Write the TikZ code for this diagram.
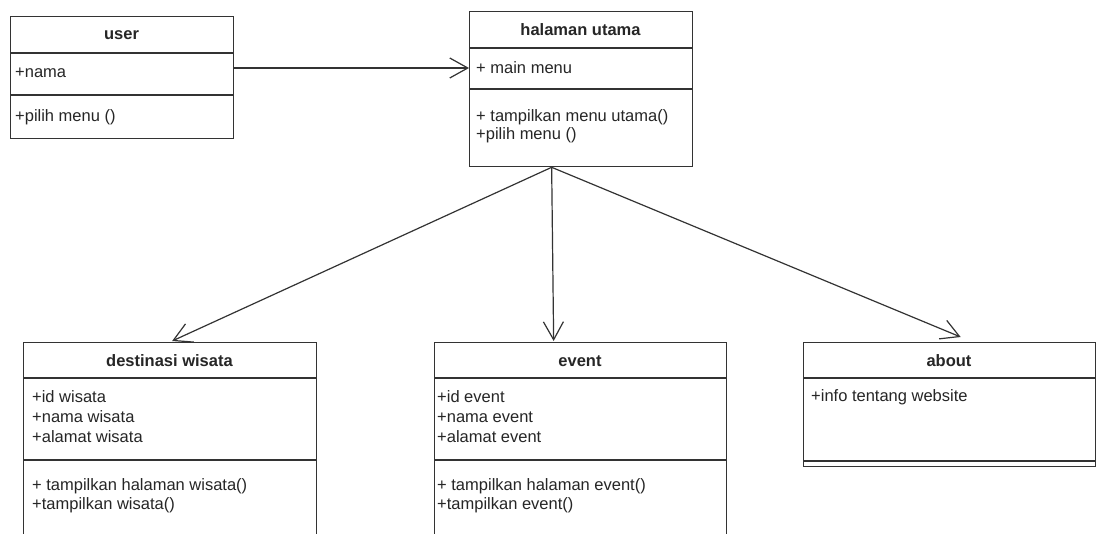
\documentclass[tikz,border=0pt]{standalone}
\usepackage{fontspec}
\setmainfont{Liberation Sans}
\usetikzlibrary{arrows.meta,calc}
\begin{document}
\begin{tikzpicture}[x=1pt,y=-1pt,
  frame/.style={draw=black!80, line width=1.3pt, fill=white, inner sep=0pt, anchor=north west},
  head/.style={font=\fontsize{16.5}{20}\selectfont\bfseries, text=black!85, inner sep=0pt},
  item/.style={font=\fontsize{16.5}{20}\selectfont, text=black!85, anchor=west, inner xsep=#1, inner ysep=0pt},
  item/.default=7pt,
  sep/.style={draw=black!80, line width=1.3pt},
  assoc/.style={draw=black!80, line width=1.2pt, -{Straight Barb[length=18pt,width=20pt]}}]
\fill[white] (0,0) rectangle (1097,533);
\useasboundingbox (0,0) rectangle (1097,533);
\clip (0,0) rectangle (1097,533);

% class: user
\node[frame, minimum width=223pt, minimum height=122pt] (user) at (10,16) {};
\node[head] (userh) at (121.5,35) {user};
\draw[sep] (10,53) -- (233,53);
\node[item=5pt] (usera) at (10,73) {+nama};
\draw[sep] (10,95) -- (233,95);
\node[item=5pt] (userm) at (10,117) {+pilih menu ()};

% class: halaman utama
\node[frame, minimum width=223pt, minimum height=155pt] (hal) at (469,11) {};
\node[head] (halh) at (580.5,30) {halaman utama};
\draw[sep] (469,48) -- (692,48);
\node[item=7pt] (hala) at (469,68) {+ main menu};
\draw[sep] (469,89) -- (692,89);
\node[item=7pt] (halm1) at (469,117) {+ tampilkan menu utama()};
\node[item=7pt] (halm2) at (469,135) {+pilih menu ()};

% class: destinasi wisata
\node[frame, minimum width=293pt, minimum height=220pt] (dest) at (23,342) {};
\node[head] (desth) at (169.5,361) {destinasi wisata};
\draw[sep] (23,378) -- (316,378);
\node[item=9pt] (desta1) at (23,397) {+id wisata};
\node[item=9pt] (desta2) at (23,417) {+nama wisata};
\node[item=9pt] (desta3) at (23,437) {+alamat wisata};
\draw[sep] (23,460) -- (316,460);
\node[item=9pt] (destm1) at (23,486) {+ tampilkan halaman wisata()};
\node[item=9pt] (destm2) at (23,505) {+tampilkan wisata()};

% class: event
\node[frame, minimum width=292pt, minimum height=220pt] (event) at (434,342) {};
\node[head] (eventh) at (580,361) {event};
\draw[sep] (434,378) -- (726,378);
\node[item=3pt] (eventa1) at (434,397) {+id event};
\node[item=3pt] (eventa2) at (434,417) {+nama event};
\node[item=3pt] (eventa3) at (434,437) {+alamat event};
\draw[sep] (434,460) -- (726,460);
\node[item=3pt] (eventm1) at (434,486) {+ tampilkan halaman event()};
\node[item=3pt] (eventm2) at (434,505) {+tampilkan event()};

% class: about
\node[frame, minimum width=292pt, minimum height=124pt] (about) at (803,342) {};
\node[head] (abouth) at (949,361) {about};
\draw[sep] (803,378) -- (1095,378);
\node[item=8pt] (abouta) at (803,397) {+info tentang website};
\draw[sep] (803,461) -- (1095,461);

% associations
\draw[assoc] (user.east |- hala.west) -- (hala.west);
\coordinate (hsrc) at ($(hal.south)+(-29.5,0)$);
\draw[assoc] (hsrc) -- ($(dest.north)+(2,-1)$);
\draw[assoc] (hsrc) -- ($(event.north)+(-27,-1)$);
\draw[assoc] (hsrc) -- ($(about.north)+(11,-5)$);
\end{tikzpicture}
\end{document}
